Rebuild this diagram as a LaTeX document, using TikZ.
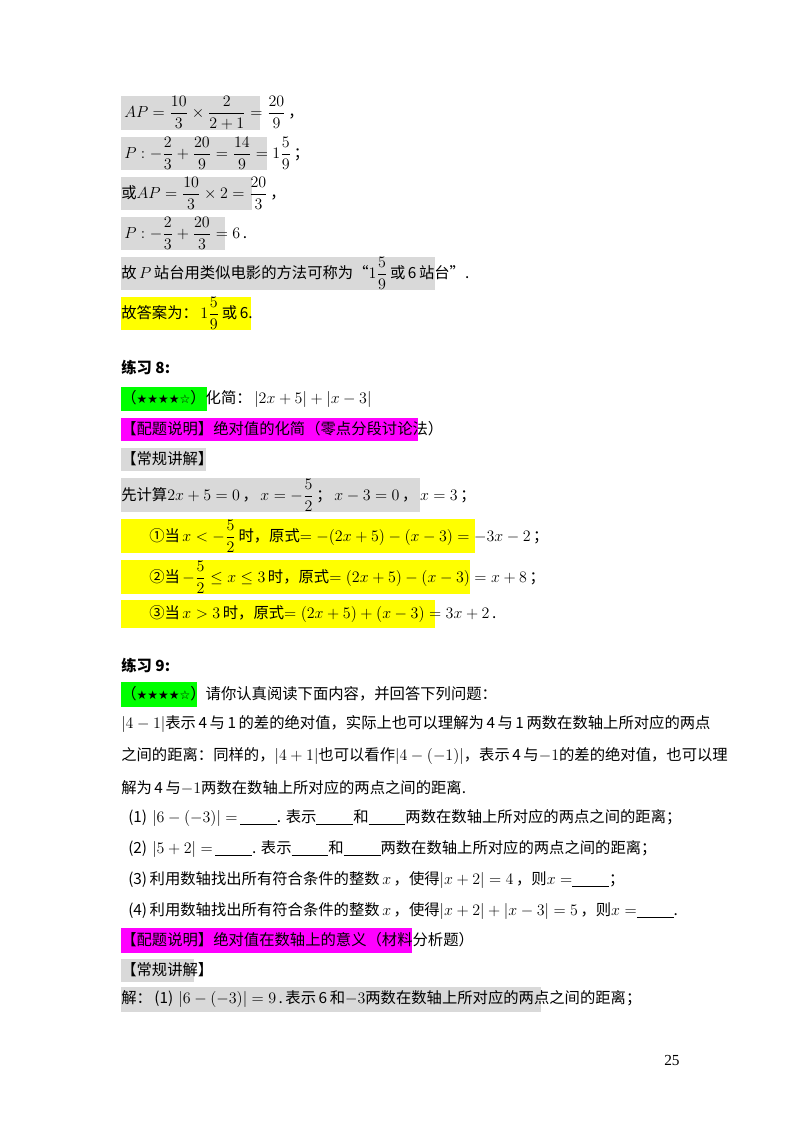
\documentclass[tikz,border=0pt]{standalone}
\usepackage{amsmath}
\usepackage{fontspec}
\setmainfont{Noto Sans CJK SC}
\newfontfamily\djv{DejaVu Sans}
\newfontfamily\tms{Liberation Serif}
\definecolor{hgray}{RGB}{217,217,217}
\definecolor{hyel}{RGB}{255,255,0}
\definecolor{hgrn}{RGB}{0,255,0}
\definecolor{hmag}{RGB}{255,0,255}
\newcommand{\blank}{\underline{\hspace{2.4em}}}
\newcommand{\stars}{{\djv\fontsize{9}{10}\selectfont ★★★★☆}}
\begin{document}
\begin{tikzpicture}[x=0.75pt,y=-0.75pt,
  tx/.style={anchor=west,inner sep=0pt,font=\fontsize{11.5}{13}\selectfont},
  hl/.style={draw=none}]
\useasboundingbox[fill=white] (0,0) rectangle (800,1132);
% highlight boxes
\fill[hgray] (121,96) rectangle (260,130);
\fill[hgray] (121,137) rectangle (267,170);
\fill[hgray] (121,177) rectangle (252,210);
\fill[hgray] (121,217) rectangle (225,250);
\fill[hgray] (121,257) rectangle (435,290);
\fill[hyel] (121,297) rectangle (251,330);
\fill[hgrn] (121,387) rectangle (207,411);
\fill[hmag] (121,418) rectangle (418,441);
\fill[hgray] (121,448) rectangle (206,471);
\fill[hgray] (121,478) rectangle (420,512);
\fill[hyel] (121,519) rectangle (475,553);
\fill[hyel] (121,560) rectangle (470,594);
\fill[hyel] (121,600) rectangle (435,628);
\fill[hgrn] (121,682) rectangle (197,707);
\fill[hmag] (121,928) rectangle (412,953);
\fill[hgray] (121,959) rectangle (194,982);
\fill[hgray] (121,987) rectangle (541,1012);
% texts
\node[tx] (l1) at (124,113) {$AP=\dfrac{10}{3}\times\dfrac{2}{2+1}=\dfrac{20}{9}$\,，};
\node[tx] (l2) at (124,153) {$P:-\dfrac{2}{3}+\dfrac{20}{9}=\dfrac{14}{9}=1\dfrac{5}{9}$\,；};
\node[tx] (l3) at (121,193) {或$AP=\dfrac{10}{3}\times2=\dfrac{20}{3}$\,，};
\node[tx] (l4) at (124,233) {$P:-\dfrac{2}{3}+\dfrac{20}{3}=6$\,.};
\node[tx] (l5) at (121,273) {故\,$P$\,站台用类似电影的方法可称为“$1\dfrac{5}{9}$\,或\,6\,站台”.};
\node[tx] (l6) at (121,313) {故答案为：\,$1\dfrac{5}{9}$\,或\,6.};
\node[tx] (h8) at (121,368) {\textbf{练习 8:}};
\node[tx] (q8) at (121,399) {（\stars）化简：\,$|2x+5|+|x-3|$};
\node[tx] (m8) at (121,429) {【配题说明】绝对值的化简（零点分段讨论法）};
\node[tx] (g8) at (121,459) {【常规讲解】};
\node[tx] (s0) at (121,495) {先计算$2x+5=0$\,，\,$x=-\dfrac{5}{2}$\,；\,$x-3=0$\,，\,$x=3$\,；};
\node[tx] (s1) at (149,536) {①当\,$x<-\dfrac{5}{2}$\,时，原式$=-(2x+5)-(x-3)=-3x-2$\,；};
\node[tx] (s2) at (149,577) {②当\,$-\dfrac{5}{2}\le x\le3$\,时，原式$=(2x+5)-(x-3)=x+8$\,；};
\node[tx] (s3) at (149,614) {③当\,$x>3$\,时，原式$=(2x+5)+(x-3)=3x+2$\,.};
\node[tx] (h9) at (121,666) {\textbf{练习 9:}};
\node[tx] (q9) at (121,694) {（\stars）请你认真阅读下面内容，并回答下列问题：};
\node[tx] (p1) at (121,724) {$|4-1|$表示\,4\,与\,1\,的差的绝对值，实际上也可以理解为\,4\,与\,1\,两数在数轴上所对应的两点};
\node[tx] (p2) at (121,756) {之间的距离：同样的，$|4+1|$也可以看作$|4-(-1)|$，表示\,4\,与$-1$的差的绝对值，也可以理};
\node[tx] (p3) at (121,788) {解为\,4\,与$-1$两数在数轴上所对应的两点之间的距离.};
\node[tx] (a1) at (128,818) {(1)\,\,$|6-(-3)|=$\,\blank. 表示\blank 和\blank 两数在数轴上所对应的两点之间的距离；};
\node[tx] (a2) at (128,849) {(2)\,\,$|5+2|=$\,\blank. 表示\blank 和\blank 两数在数轴上所对应的两点之间的距离；};
\node[tx] (a3) at (128,880) {(3)\,利用数轴找出所有符合条件的整数\,$x$\,，使得$|x+2|=4$\,，则$x=$\blank；};
\node[tx] (a4) at (128,911) {(4)\,利用数轴找出所有符合条件的整数\,$x$\,，使得$|x+2|+|x-3|=5$\,，则$x=$\blank.};
\node[tx] (m9) at (121,940) {【配题说明】绝对值在数轴上的意义（材料分析题）};
\node[tx] (g9) at (121,970) {【常规讲解】};
\node[tx] (r1) at (121,999) {解：\,(1)\,\,$|6-(-3)|=9$\,.\,表示\,6\,和$-3$两数在数轴上所对应的两点之间的距离；};
\node[tx] (pg) at (664,1060) {\tms 25};
\end{tikzpicture}
\end{document}
